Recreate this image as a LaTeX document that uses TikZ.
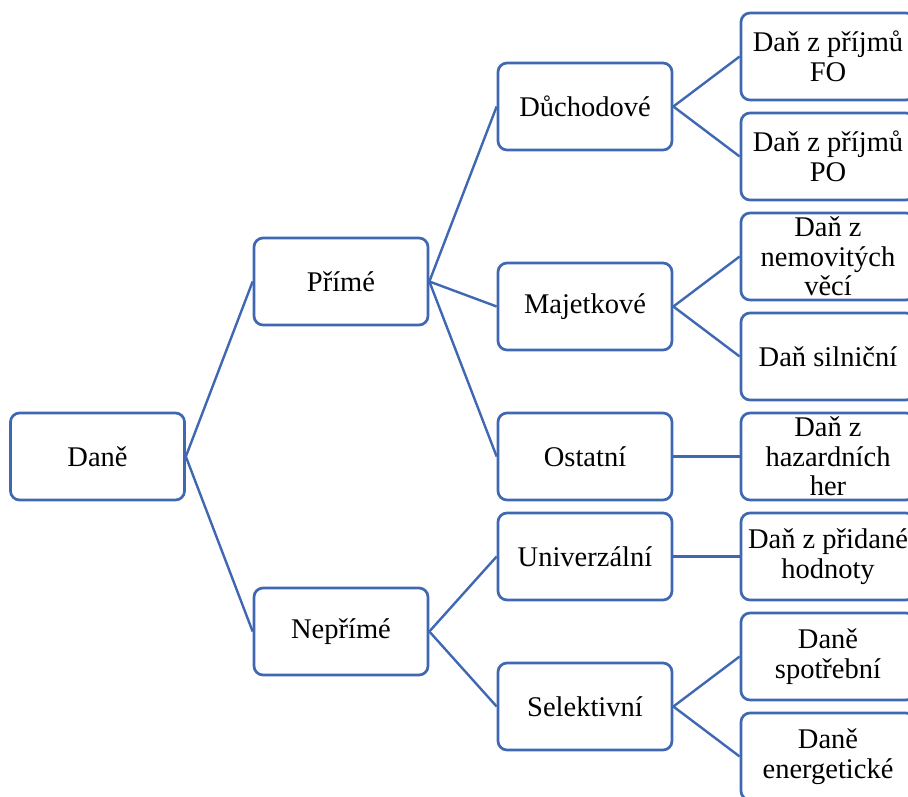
\documentclass[tikz,border=0pt]{standalone}
\usepackage{fontspec}
\setmainfont{Liberation Serif}
\definecolor{boxblue}{HTML}{4068B2}
\begin{document}
\begin{tikzpicture}[x=1pt,y=-1pt,
  box/.style={draw=boxblue, line width=2.7pt, fill=white, rounded corners=9pt,
    minimum width=174pt, minimum height=87pt, inner sep=0pt, align=center,
    font=\fontsize{28.5pt}{29.5pt}\selectfont},
  conn/.style={draw=boxblue, line width=2.4pt}]
\path[use as bounding box, clip] (0,0) rectangle (908,797);
\fill[white] (0,0) rectangle (908,797);
% level 1
\node[box] (dane) at (97.5,456.5) {Daně};
% level 2
\node[box] (prime) at (341,281.5) {Přímé};
\node[box] (neprime) at (341,631.5) {Nepřímé};
% level 3
\node[box] (duch) at (585,106.5) {Důchodové};
\node[box] (maj) at (585,306.5) {Majetkové};
\node[box] (ost) at (585,456.5) {Ostatní};
\node[box] (univ) at (585,556.5) {Univerzální};
\node[box] (sel) at (585,706.5) {Selektivní};
% level 4
\node[box] (fo) at (828,56.5) {Daň z příjmů\\FO};
\node[box] (po) at (828,156.5) {Daň z příjmů\\PO};
\node[box] (nem) at (828,256.5) {Daň z\\nemovitých\\věcí};
\node[box] (silni) at (828,356.5) {Daň silniční};
\node[box] (haz) at (828,456.5) {Daň z\\hazardních\\her};
\node[box] (dph) at (828,556.5) {Daň z přidané\\hodnoty};
\node[box] (spot) at (828,656.5) {Daně\\spotřební};
\node[box] (ener) at (828,756.5) {Daně\\energetické};
% connectors
\path[conn] (dane.east) -- (prime.west);
\path[conn] (dane.east) -- (neprime.west);
\path[conn] (prime.east) -- (duch.west);
\path[conn] (prime.east) -- (maj.west);
\path[conn] (prime.east) -- (ost.west);
\path[conn] (neprime.east) -- (univ.west);
\path[conn] (neprime.east) -- (sel.west);
\path[conn] (duch.east) -- (fo.west);
\path[conn] (duch.east) -- (po.west);
\path[conn] (maj.east) -- (nem.west);
\path[conn] (maj.east) -- (silni.west);
\path[conn] (ost.east) -- (haz.west);
\path[conn, line width=3.4pt] (univ.east) -- (dph.west);
\path[conn] (sel.east) -- (spot.west);
\path[conn] (sel.east) -- (ener.west);
\end{tikzpicture}
\end{document}
